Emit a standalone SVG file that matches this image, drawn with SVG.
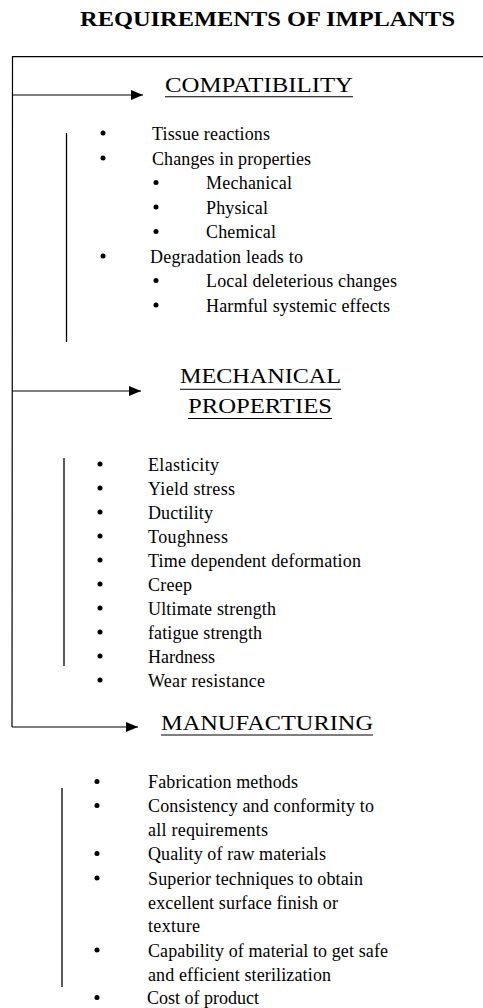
<svg xmlns="http://www.w3.org/2000/svg" width="483" height="1008" viewBox="0 0 483 1008">
<style>
text{font-family:"Liberation Serif","Times New Roman",serif;fill:#000}
.t{font-size:20px;font-weight:bold}
.h{font-size:21px}
.b{font-size:18px}
.ln{stroke:#000;stroke-width:1.2;fill:none}
.ul{stroke:#000;stroke-width:1.1}
.bar{stroke:#000;stroke-width:1.3}
.dot{fill:#000}
</style>
<defs>
<marker id="ah" markerUnits="userSpaceOnUse" markerWidth="12" markerHeight="10" refX="12" refY="5" orient="auto">
<path d="M0,0 L12,5 L0,10 Z" fill="#000"/>
</marker>
</defs>
<rect width="483" height="1008" fill="#fff"/>
<g id="title"><text class="t" x="80" y="25.5" textLength="375" lengthAdjust="spacingAndGlyphs">REQUIREMENTS OF IMPLANTS</text></g>
<g id="connectors">
<path class="ln" d="M483,56.7 L12.5,56.7 L12,727"/>
<path class="ln" d="M12.5,95 L143,95" marker-end="url(#ah)"/>
<path class="ln" d="M12.5,391 L141,391" marker-end="url(#ah)"/>
<path class="ln" d="M12,727 L138,727" marker-end="url(#ah)"/>
</g>
<g id="compatibility">
<text class="h" x="165" y="91.5" textLength="188" lengthAdjust="spacingAndGlyphs">COMPATIBILITY</text>
<line class="ul" x1="165" y1="96.8" x2="353" y2="96.8"/>
<line class="bar" x1="66.5" y1="133" x2="66.5" y2="342"/>
<circle class="dot" cx="103" cy="133" r="2.5"/><text class="b" x="152" y="139.5" textLength="118" lengthAdjust="spacing">Tissue reactions</text>
<circle class="dot" cx="103" cy="158" r="2.5"/><text class="b" x="152" y="164.5" textLength="159" lengthAdjust="spacing">Changes in properties</text>
<circle class="dot" cx="156" cy="182.5" r="2.5"/><text class="b" x="206" y="189" textLength="86" lengthAdjust="spacing">Mechanical</text>
<circle class="dot" cx="156" cy="207" r="2.5"/><text class="b" x="206" y="213.5" textLength="62" lengthAdjust="spacing">Physical</text>
<circle class="dot" cx="156" cy="231.5" r="2.5"/><text class="b" x="206" y="238" textLength="70" lengthAdjust="spacing">Chemical</text>
<circle class="dot" cx="103" cy="256" r="2.5"/><text class="b" x="150" y="262.5" textLength="153" lengthAdjust="spacing">Degradation leads to</text>
<circle class="dot" cx="156" cy="280.5" r="2.5"/><text class="b" x="206" y="287" textLength="191" lengthAdjust="spacing">Local deleterious changes</text>
<circle class="dot" cx="156" cy="305" r="2.5"/><text class="b" x="206" y="311.5" textLength="184" lengthAdjust="spacing">Harmful systemic effects</text>
</g>
<g id="mechanical">
<text class="h" x="180" y="383.3" textLength="161" lengthAdjust="spacingAndGlyphs">MECHANICAL</text>
<line class="ul" x1="180" y1="389.3" x2="341" y2="389.3"/>
<text class="h" x="188" y="412.7" textLength="144" lengthAdjust="spacingAndGlyphs">PROPERTIES</text>
<line class="ul" x1="188" y1="418.5" x2="332" y2="418.5"/>
<line class="bar" x1="64" y1="458" x2="64" y2="666"/>
<circle class="dot" cx="100" cy="464" r="2.5"/><text class="b" x="148" y="470.5" textLength="71" lengthAdjust="spacing">Elasticity</text>
<circle class="dot" cx="100" cy="488" r="2.5"/><text class="b" x="148" y="494.5" textLength="87" lengthAdjust="spacing">Yield stress</text>
<circle class="dot" cx="100" cy="512" r="2.5"/><text class="b" x="148" y="518.5" textLength="65" lengthAdjust="spacing">Ductility</text>
<circle class="dot" cx="100" cy="536" r="2.5"/><text class="b" x="148" y="542.5" textLength="80" lengthAdjust="spacing">Toughness</text>
<circle class="dot" cx="100" cy="560" r="2.5"/><text class="b" x="148" y="566.5" textLength="213" lengthAdjust="spacing">Time dependent deformation</text>
<circle class="dot" cx="100" cy="584" r="2.5"/><text class="b" x="148" y="590.5" textLength="44" lengthAdjust="spacing">Creep</text>
<circle class="dot" cx="100" cy="608" r="2.5"/><text class="b" x="148" y="614.5" textLength="128" lengthAdjust="spacing">Ultimate strength</text>
<circle class="dot" cx="100" cy="632" r="2.5"/><text class="b" x="148" y="638.5" textLength="114" lengthAdjust="spacing">fatigue strength</text>
<circle class="dot" cx="100" cy="656" r="2.5"/><text class="b" x="148" y="662.5" textLength="67" lengthAdjust="spacing">Hardness</text>
<circle class="dot" cx="100" cy="680" r="2.5"/><text class="b" x="148" y="686.5" textLength="117" lengthAdjust="spacing">Wear resistance</text>
</g>
<g id="manufacturing">
<text class="h" x="161" y="730" textLength="212" lengthAdjust="spacingAndGlyphs">MANUFACTURING</text>
<line class="ul" x1="161" y1="735" x2="373" y2="735"/>
<line class="bar" x1="62" y1="788" x2="62" y2="987"/>
<circle class="dot" cx="97" cy="781.5" r="2.5"/><text class="b" x="148" y="788" textLength="150" lengthAdjust="spacing">Fabrication methods</text>
<circle class="dot" cx="97" cy="805.5" r="2.5"/><text class="b" x="148" y="812" textLength="226" lengthAdjust="spacing">Consistency and conformity to</text>
<text class="b" x="148" y="836" textLength="120" lengthAdjust="spacing">all requirements</text>
<circle class="dot" cx="97" cy="853.5" r="2.5"/><text class="b" x="148" y="860" textLength="178" lengthAdjust="spacing">Quality of raw materials</text>
<circle class="dot" cx="97" cy="878" r="2.5"/><text class="b" x="148" y="884.5" textLength="215" lengthAdjust="spacing">Superior techniques to obtain</text>
<text class="b" x="148" y="908.5" textLength="190" lengthAdjust="spacing">excellent surface finish or</text>
<text class="b" x="148" y="932" textLength="52" lengthAdjust="spacing">texture</text>
<circle class="dot" cx="97" cy="950" r="2.5"/><text class="b" x="148" y="956.5" textLength="240" lengthAdjust="spacing">Capability of material to get safe</text>
<text class="b" x="148" y="980.5" textLength="183" lengthAdjust="spacing">and efficient sterilization</text>
<circle class="dot" cx="97" cy="997.5" r="2.5"/><text class="b" x="147" y="1004" textLength="112" lengthAdjust="spacing">Cost of product</text>
</g>
</svg>
